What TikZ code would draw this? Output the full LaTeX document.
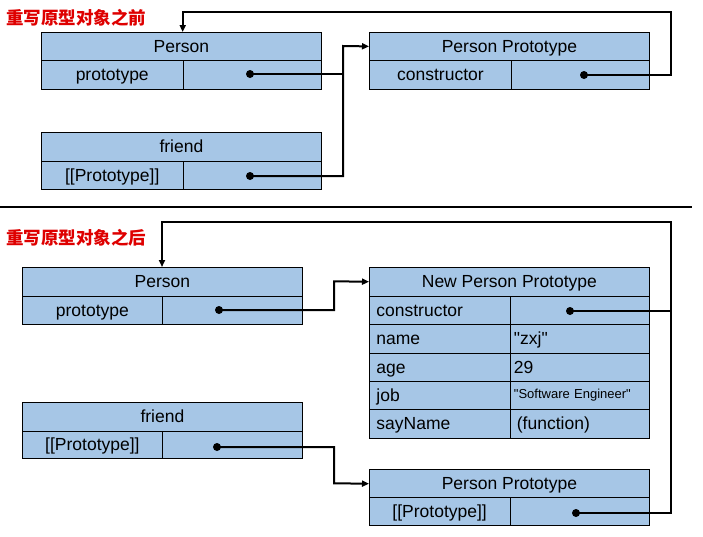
\documentclass[tikz,border=0pt]{standalone}
\usepackage{fontspec}
\setmainfont{Liberation Sans}
\newfontfamily\plainsans{Liberation Sans}
\newfontfamily\cjk{Noto Sans CJK SC}
\usetikzlibrary{arrows.meta}
\definecolor{boxblue}{RGB}{166,198,230}
\definecolor{titlered}{RGB}{222,0,0}
\begin{document}
\begin{tikzpicture}[x=1pt,y=-1pt,
  cell/.style={draw=black, line width=0.8pt, fill=boxblue, inner sep=0pt, anchor=north west, text height=14pt, text depth=2pt, font=\fontsize{17.5}{20}\selectfont},
  lcell/.style={cell, align=left, inner xsep=7pt},
  vcell/.style={cell, align=left, inner xsep=4pt},
  dotn/.style={circle, fill=black, inner sep=0pt, minimum size=8pt},
  conn/.style={line width=2pt, line join=miter},
  arr/.style={conn, -{Triangle[length=7pt,width=6pt]}},
  title/.style={anchor=west, text=titlered, font=\cjk\bfseries\fontsize{17.5}{20}\selectfont, inner sep=0pt}
]
\useasboundingbox (0,0) rectangle (703,536);

% ---------------- before ----------------
\node[title] (t1) at (6,17.5) {重写原型对象之前};

\node[cell, minimum width=280pt, minimum height=28pt] (pah) at (41,32) {Person};
\node[cell, minimum width=141.7pt, minimum height=29pt] (pak) at (41,60) {prototype};
\node[cell, minimum width=138.3pt, minimum height=29pt] (pav) at (182.7,60) {};

\node[cell, minimum width=280pt, minimum height=29pt] (fah) at (41,132) {friend};
\node[cell, minimum width=141.7pt, minimum height=28pt] (fak) at (41,161) {[[Prototype]]};
\node[cell, minimum width=138.3pt, minimum height=28pt] (fav) at (182.7,161) {};

\node[cell, minimum width=280pt, minimum height=28pt] (ppah) at (369,32) {Person Prototype};
\node[cell, minimum width=142pt, minimum height=29pt] (ppak) at (369,60) {constructor};
\node[cell, minimum width=138pt, minimum height=29pt] (ppav) at (511,60) {};

\node[dotn] (da1) at (250,74) {};
\node[dotn] (da2) at (250,176) {};
\node[dotn] (da3) at (584,75) {};

\coordinate (ja1) at (343,74);
\coordinate (ja2) at (343,176);
\coordinate (ja3) at (343,46);
\coordinate (ja4) at (671,75);
\coordinate (ja5) at (671,12);
\coordinate (ja6) at (182.7,12);
\coordinate (ja7) at (182.7,32);

\draw[conn] (da1.center) -- (ja1);
\draw[arr] (da2.center) -- (ja2) -- (ja3) -- (ppah.west);
\draw[arr] (da3.center) -- (ja4) -- (ja5) -- (ja6) -- (ja7);

% separator
\coordinate (s1) at (0,207);
\coordinate (s2) at (692,207);
\draw[line width=2pt] (s1) -- (s2);

% ---------------- after ----------------
\node[title] (t2) at (6,238) {重写原型对象之后};

\node[cell, minimum width=280pt, minimum height=28.7pt] (pbh) at (22,267) {Person};
\node[cell, minimum width=140pt, minimum height=28.3pt] (pbk) at (22,295.7) {prototype};
\node[cell, minimum width=140pt, minimum height=28.3pt] (pbv) at (162,295.7) {};

\node[cell, minimum width=280pt, minimum height=29pt] (fbh) at (22,401.7) {friend};
\node[cell, minimum width=140pt, minimum height=27.6pt] (fbk) at (22,430.7) {[[Prototype]]};
\node[cell, minimum width=140pt, minimum height=27.6pt] (fbv) at (162,430.7) {};

\node[cell, minimum width=280pt, minimum height=28.7pt] (nph) at (369,267) {New Person Prototype};
\node[lcell, minimum width=140.5pt, minimum height=28.4pt, text width=126.5pt] (npk1) at (369,295.7) {constructor};
\node[vcell, minimum width=139.5pt, minimum height=28.4pt] (npv1) at (509.5,295.7) {};
\node[lcell, minimum width=140.5pt, minimum height=28.4pt, text width=126.5pt] (npk2) at (369,324.1) {name};
\node[vcell, minimum width=139.5pt, minimum height=28.4pt, text width=131.5pt] (npv2) at (509.5,324.1) {\plainsans "zxj"};
\node[lcell, minimum width=140.5pt, minimum height=28.4pt, text width=126.5pt] (npk3) at (369,352.5) {age};
\node[vcell, minimum width=139.5pt, minimum height=28.4pt, text width=131.5pt] (npv3) at (509.5,352.5) {29};
\node[vcell, minimum width=139.5pt, minimum height=28.4pt, text width=131.5pt, font=\plainsans\fontsize{13}{15}\selectfont, text height=10pt, text depth=4pt] (npv4) at (509.5,380.9) {"Software Engineer"};
\node[lcell, minimum width=140.5pt, minimum height=28.4pt, text width=126.5pt] (npk4) at (369,380.9) {job};
\node[lcell, minimum width=140.5pt, minimum height=28.4pt, text width=126.5pt] (npk5) at (369,409.3) {sayName};
\node[vcell, minimum width=139.5pt, minimum height=28.4pt, text width=125.5pt, inner xsep=7pt] (npv5) at (509.5,409.3) {(function)};

\node[cell, minimum width=280pt, minimum height=28pt] (ppbh) at (369,469.3) {Person Prototype};
\node[cell, minimum width=140.5pt, minimum height=27.7pt] (ppbk) at (369,497.3) {[[Prototype]]};
\node[cell, minimum width=139.5pt, minimum height=27.7pt] (ppbv) at (509.5,497.3) {};

\node[dotn] (db1) at (219,310) {};
\node[dotn] (db2) at (570,311) {};
\node[dotn] (db3) at (217,447) {};
\node[dotn] (db4) at (576,513) {};

\coordinate (jb1) at (334,310);
\coordinate (jb2) at (334,281.3);
\coordinate (jb3) at (671,311);
\coordinate (jb4) at (671,513);
\coordinate (jb5) at (671,222);
\coordinate (jb6) at (162,222);
\coordinate (jb7) at (162,267);
\coordinate (jb8) at (334,447);
\coordinate (jb9) at (334,483.3);

\draw[arr] (db1.center) -- (jb1) -- (jb2) -- (nph.west);
\draw[conn] (db2.center) -- (jb3);
\draw[arr] (db4.center) -- (jb4) -- (jb5) -- (jb6) -- (jb7);
\draw[arr] (db3.center) -- (jb8) -- (jb9) -- (ppbh.west);
\end{tikzpicture}
\end{document}
